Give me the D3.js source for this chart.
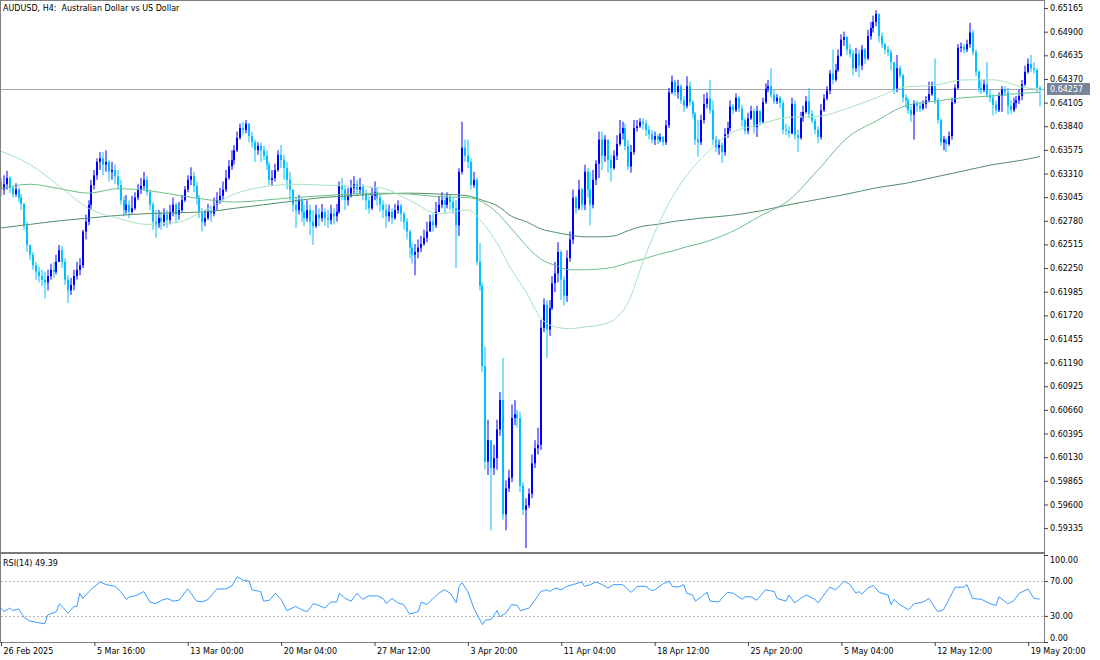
<!DOCTYPE html>
<html>
<head>
<meta charset="utf-8">
<title>AUDUSD H4</title>
<script src="https://cdn.jsdelivr.net/npm/d3@7"></script>
<style>
html,body{margin:0;padding:0;background:#fff;}
svg{display:block;}
</style>
</head>
<body>
<svg id="chart" width="1100" height="660"></svg>
<script>
// ---------------- DATA ----------------
const symbolTitle = "AUDUSD, H4:  Australian Dollar vs US Dollar";
const firstOpen = 0.6322;
const closes = [
0.6313,0.6319,0.6326,0.6315,0.6308,0.6313,0.6304,0.6297,0.6273,0.6251,
0.6240,0.6228,0.6221,0.6216,0.6212,0.6209,0.6216,0.6223,0.6221,0.6232,
0.6245,0.6232,0.6212,0.6200,0.6206,0.6216,0.6223,0.6228,0.6266,0.6277,
0.6296,0.6318,0.6329,0.6344,0.6348,0.6341,0.6344,0.6333,0.6335,0.6328,
0.6318,0.6301,0.6290,0.6296,0.6288,0.6292,0.6304,0.6313,0.6317,0.6324,
0.6310,0.6296,0.6277,0.6273,0.6281,0.6277,0.6285,0.6279,0.6288,0.6296,
0.6285,0.6290,0.6301,0.6313,0.6324,0.6328,0.6317,0.6304,0.6288,0.6277,
0.6281,0.6288,0.6286,0.6296,0.6301,0.6306,0.6313,0.6326,0.6339,0.6346,
0.6357,0.6371,0.6382,0.6380,0.6387,0.6373,0.6366,0.6357,0.6362,0.6357,
0.6351,0.6341,0.6324,0.6326,0.6335,0.6352,0.6346,0.6337,0.6324,0.6313,
0.6296,0.6290,0.6301,0.6288,0.6281,0.6290,0.6277,0.6272,0.6285,0.6281,
0.6288,0.6281,0.6279,0.6286,0.6283,0.6288,0.6318,0.6313,0.6301,0.6306,
0.6315,0.6319,0.6313,0.6317,0.6307,0.6301,0.6292,0.6306,0.6310,0.6304,
0.6296,0.6290,0.6283,0.6288,0.6281,0.6290,0.6295,0.6286,0.6277,0.6266,
0.6248,0.6240,0.6243,0.6248,0.6252,0.6259,0.6266,0.6277,0.6273,0.6288,
0.6296,0.6301,0.6296,0.6304,0.6299,0.6292,0.6273,0.6333,0.6360,0.6351,
0.6344,0.6318,0.6324,0.6232,0.6205,0.6115,0.6008,0.6032,0.6001,0.6012,
0.6044,0.6077,0.5949,0.5978,0.5990,0.6057,0.6061,0.6057,0.5981,0.5954,
0.5959,0.5972,0.6006,0.6023,0.6027,0.6158,0.6184,0.6156,0.6180,0.6208,
0.6219,0.6243,0.6212,0.6194,0.6236,0.6257,0.6304,0.6292,0.6313,0.6296,
0.6333,0.6313,0.6296,0.6324,0.6342,0.6369,0.6351,0.6369,0.6346,0.6337,
0.6351,0.6364,0.6376,0.6382,0.6362,0.6339,0.6355,0.6382,0.6384,0.6389,
0.6387,0.6380,0.6375,0.6369,0.6373,0.6369,0.6372,0.6366,0.6385,0.6422,
0.6434,0.6422,0.6429,0.6413,0.6407,0.6429,0.6411,0.6398,0.6369,0.6366,
0.6391,0.6409,0.6415,0.6402,0.6369,0.6360,0.6363,0.6355,0.6375,0.6382,
0.6406,0.6402,0.6416,0.6404,0.6391,0.6379,0.6393,0.6401,0.6383,0.6401,
0.6389,0.6411,0.6426,0.6429,0.6419,0.6412,0.6416,0.6410,0.6380,0.6379,
0.6376,0.6409,0.6374,0.6371,0.6393,0.6400,0.6412,0.6398,0.6390,0.6380,
0.6372,0.6402,0.6415,0.6424,0.6443,0.6436,0.6447,0.6463,0.6481,0.6484,
0.6470,0.6465,0.6449,0.6465,0.6452,0.6470,0.6460,0.6485,0.6494,0.6501,
0.6510,0.6485,0.6476,0.6470,0.6467,0.6456,0.6425,0.6449,0.6441,0.6416,
0.6413,0.6402,0.6397,0.6409,0.6407,0.6404,0.6409,0.6413,0.6420,0.6429,
0.6413,0.6391,0.6366,0.6369,0.6364,0.6373,0.6411,0.6427,0.6472,0.6473,
0.6470,0.6476,0.6489,0.6467,0.6445,0.6427,0.6425,0.6431,0.6419,0.6416,
0.6408,0.6402,0.6418,0.6425,0.6422,0.6407,0.6402,0.6410,0.6413,0.6418,
0.6431,0.6445,0.6454,0.6449,0.6447,0.6427,0.64257];
const highs = [
0.6326,0.6329,0.6334,0.6328,0.6317,0.6320,0.6315,0.6308,0.6298,0.6277,
0.6251,0.6243,0.6232,0.6227,0.6223,0.6221,0.6223,0.6230,0.6232,0.6240,
0.6251,0.6250,0.6236,0.6217,0.6214,0.6223,0.6232,0.6236,0.6268,0.6285,
0.6301,0.6324,0.6335,0.6348,0.6355,0.6355,0.6357,0.6346,0.6344,0.6341,
0.6335,0.6324,0.6306,0.6307,0.6301,0.6306,0.6310,0.6319,0.6326,0.6333,
0.6328,0.6313,0.6299,0.6290,0.6290,0.6288,0.6292,0.6290,0.6296,0.6304,
0.6298,0.6299,0.6307,0.6317,0.6329,0.6338,0.6333,0.6322,0.6307,0.6292,
0.6290,0.6297,0.6295,0.6304,0.6310,0.6315,0.6322,0.6335,0.6346,0.6357,
0.6363,0.6378,0.6387,0.6389,0.6391,0.6387,0.6378,0.6369,0.6366,0.6366,
0.6362,0.6357,0.6344,0.6335,0.6342,0.6357,0.6363,0.6352,0.6344,0.6333,
0.6313,0.6304,0.6307,0.6304,0.6296,0.6301,0.6296,0.6290,0.6296,0.6292,
0.6297,0.6292,0.6290,0.6296,0.6292,0.6297,0.6322,0.6326,0.6317,0.6315,
0.6324,0.6328,0.6324,0.6326,0.6319,0.6313,0.6306,0.6315,0.6322,0.6315,
0.6307,0.6301,0.6297,0.6296,0.6292,0.6297,0.6301,0.6297,0.6288,0.6281,
0.6268,0.6254,0.6252,0.6257,0.6261,0.6268,0.6277,0.6285,0.6286,0.6299,
0.6306,0.6310,0.6306,0.6310,0.6307,0.6304,0.6301,0.6337,0.6389,0.6369,
0.6369,0.6348,0.6333,0.6326,0.6253,0.6209,0.6137,0.6055,0.6032,0.6027,
0.6055,0.6086,0.6124,0.5987,0.5999,0.6072,0.6077,0.6066,0.6064,0.5985,
0.5967,0.5978,0.6016,0.6032,0.6046,0.6167,0.6191,0.6189,0.6189,0.6216,
0.6232,0.6254,0.6245,0.6216,0.6245,0.6266,0.6313,0.6306,0.6324,0.6315,
0.6341,0.6337,0.6333,0.6335,0.6346,0.6378,0.6378,0.6374,0.6360,0.6352,
0.6357,0.6374,0.6391,0.6389,0.6387,0.6369,0.6363,0.6391,0.6391,0.6393,
0.6393,0.6391,0.6385,0.6380,0.6378,0.6375,0.6376,0.6373,0.6391,0.6427,
0.6441,0.6436,0.6436,0.6431,0.6418,0.6440,0.6434,0.6413,0.6400,0.6391,
0.6397,0.6420,0.6422,0.6436,0.6413,0.6373,0.6369,0.6366,0.6382,0.6389,
0.6413,0.6409,0.6421,0.6418,0.6408,0.6393,0.6399,0.6407,0.6404,0.6407,
0.6402,0.6416,0.6432,0.6436,0.6449,0.6425,0.6420,0.6418,0.6413,0.6387,
0.6384,0.6416,0.6413,0.6380,0.6400,0.6407,0.6418,0.6427,0.6402,0.6393,
0.6384,0.6409,0.6420,0.6429,0.6447,0.6470,0.6454,0.6470,0.6487,0.6490,
0.6485,0.6476,0.6470,0.6472,0.6470,0.6475,0.6472,0.6492,0.6501,0.6508,
0.6514,0.6510,0.6489,0.6478,0.6474,0.6470,0.6456,0.6464,0.6452,0.6443,
0.6420,0.6416,0.6407,0.6413,0.6413,0.6411,0.6413,0.6418,0.6434,0.6434,
0.6460,0.6416,0.6393,0.6373,0.6371,0.6378,0.6416,0.6431,0.6476,0.6478,
0.6476,0.6481,0.6500,0.6492,0.6470,0.6447,0.6436,0.6436,0.6456,0.6425,
0.6420,0.6413,0.6422,0.6429,0.6429,0.6427,0.6413,0.6416,0.6418,0.6425,
0.6436,0.6452,0.6460,0.6464,0.6456,0.6449,0.6429];
const lows = [
0.6306,0.6307,0.6313,0.6309,0.6304,0.6305,0.6299,0.6290,0.6268,0.6243,
0.6234,0.6223,0.6212,0.6209,0.6205,0.6191,0.6200,0.6212,0.6214,0.6218,
0.6232,0.6225,0.6206,0.6186,0.6195,0.6200,0.6212,0.6217,0.6225,0.6257,
0.6273,0.6290,0.6313,0.6324,0.6335,0.6329,0.6333,0.6322,0.6324,0.6319,
0.6313,0.6296,0.6283,0.6286,0.6281,0.6286,0.6290,0.6301,0.6308,0.6313,
0.6306,0.6290,0.6268,0.6259,0.6270,0.6268,0.6272,0.6270,0.6274,0.6283,
0.6277,0.6279,0.6288,0.6299,0.6310,0.6318,0.6310,0.6296,0.6281,0.6266,
0.6272,0.6279,0.6277,0.6283,0.6290,0.6297,0.6301,0.6310,0.6324,0.6335,
0.6341,0.6355,0.6369,0.6374,0.6376,0.6366,0.6360,0.6344,0.6352,0.6344,
0.6346,0.6335,0.6318,0.6317,0.6322,0.6333,0.6337,0.6324,0.6313,0.6301,
0.6288,0.6270,0.6285,0.6277,0.6272,0.6277,0.6262,0.6251,0.6270,0.6272,
0.6277,0.6272,0.6270,0.6274,0.6274,0.6277,0.6286,0.6301,0.6290,0.6295,
0.6304,0.6308,0.6306,0.6308,0.6301,0.6290,0.6286,0.6290,0.6301,0.6295,
0.6288,0.6281,0.6270,0.6277,0.6274,0.6279,0.6286,0.6277,0.6268,0.6257,
0.6236,0.6230,0.6217,0.6236,0.6243,0.6250,0.6254,0.6266,0.6266,0.6270,
0.6288,0.6292,0.6286,0.6292,0.6290,0.6286,0.6225,0.6261,0.6330,0.6344,
0.6337,0.6313,0.6315,0.6228,0.6200,0.6108,0.5999,0.5993,0.5931,0.5993,
0.5999,0.6037,0.5943,0.5931,0.5974,0.5985,0.6049,0.6046,0.5974,0.5948,
0.5911,0.5956,0.5967,0.6001,0.6016,0.6021,0.6153,0.6124,0.6149,0.6178,
0.6198,0.6209,0.6189,0.6183,0.6187,0.6232,0.6252,0.6286,0.6290,0.6290,
0.6290,0.6304,0.6273,0.6292,0.6318,0.6326,0.6335,0.6344,0.6332,0.6322,
0.6335,0.6346,0.6362,0.6369,0.6357,0.6335,0.6332,0.6352,0.6378,0.6382,
0.6380,0.6373,0.6369,0.6365,0.6363,0.6364,0.6366,0.6362,0.6363,0.6382,
0.6420,0.6418,0.6415,0.6409,0.6400,0.6404,0.6407,0.6393,0.6363,0.6350,
0.6363,0.6387,0.6404,0.6398,0.6363,0.6355,0.6352,0.6343,0.6351,0.6371,
0.6378,0.6398,0.6400,0.6400,0.6383,0.6375,0.6375,0.6391,0.6376,0.6372,
0.6385,0.6387,0.6409,0.6422,0.6416,0.6409,0.6409,0.6404,0.6375,0.6374,
0.6371,0.6375,0.6369,0.6355,0.6369,0.6389,0.6398,0.6393,0.6387,0.6375,
0.6365,0.6369,0.6400,0.6413,0.6420,0.6431,0.6434,0.6445,0.6462,0.6474,
0.6464,0.6461,0.6441,0.6445,0.6439,0.6447,0.6454,0.6458,0.6481,0.6489,
0.6496,0.6478,0.6472,0.6465,0.6463,0.6447,0.6420,0.6422,0.6438,0.6411,
0.6404,0.6398,0.6389,0.6369,0.6400,0.6400,0.6402,0.6404,0.6411,0.6418,
0.6409,0.6387,0.6362,0.6357,0.6355,0.6362,0.6369,0.6409,0.6425,0.6467,
0.6466,0.6467,0.6472,0.6464,0.6440,0.6422,0.6420,0.6422,0.6416,0.6411,
0.6396,0.6398,0.6400,0.6400,0.6418,0.6397,0.6398,0.6400,0.6404,0.6409,
0.6413,0.6429,0.6443,0.6445,0.6443,0.6422,0.6406];

// moving averages, read at these bar positions
const maIndex = [0,10,20,30,40,50,60,70,80,90,100,110,120,130,140,150,160,165,170,175,180,185,190,195,200,205,210,215,220,225,230,235,240,250,260,270,280,290,300,310,320,330,340,350,356];
const maFast = [0.6356,0.6341,0.6317,0.6292,0.6281,0.6274,0.6276,0.6290,0.6308,0.6316,0.6319,0.6318,0.6317,0.6315,0.6301,0.6286,0.6290,0.6276,0.6253,0.6223,0.6198,0.6169,0.6159,0.6157,0.6159,0.6161,0.6167,0.6187,0.6232,0.6272,0.6304,0.6329,0.6348,0.6376,0.6386,0.6394,0.6395,0.6404,0.6416,0.6428,0.6430,0.6436,0.6436,0.6428,0.6425];
const maMid = [0.6314,0.6319,0.6314,0.6309,0.6314,0.6312,0.6307,0.6302,0.6299,0.6301,0.6304,0.6306,0.6308,0.6309,0.6308,0.6305,0.6304,0.6299,0.6287,0.6269,0.6250,0.6235,0.6228,0.6223,0.6223,0.6224,0.6226,0.6231,0.6235,0.6240,0.6244,0.6249,0.6253,0.6265,0.6283,0.6301,0.6335,0.6371,0.6390,0.6407,0.6412,0.6416,0.6418,0.6421,0.6422];
const maSlow = [0.6270,0.6274,0.6278,0.6281,0.6284,0.6286,0.6287,0.6288,0.6292,0.6296,0.6300,0.6304,0.6306,0.6308,0.6309,0.6308,0.6306,0.6301,0.6295,0.6283,0.6277,0.6269,0.6265,0.6262,0.6260,0.6260,0.6261,0.6267,0.6272,0.6274,0.6277,0.6279,0.6281,0.6284,0.6289,0.6296,0.6302,0.6308,0.6315,0.6320,0.6327,0.6334,0.6341,0.6346,0.6350];

// RSI(14), read at these bar positions
const rsiIndex = [0,1,3,4,6,8,10,13,15,16,19,20,22,23,25,26,27,28,31,34,36,39,41,43,44,46,49,51,53,55,57,59,61,64,67,69,71,74,77,79,81,83,85,86,89,90,92,94,96,98,101,103,105,107,109,111,113,115,116,118,120,122,124,126,129,131,132,134,136,138,140,143,144,146,148,150,152,154,156,157,158,160,162,165,166,168,170,171,173,175,177,178,181,183,185,187,188,190,192,194,197,199,200,202,204,206,208,210,213,216,218,221,223,224,227,229,230,232,234,235,237,238,240,241,242,243,246,247,249,251,254,255,257,259,262,265,266,269,270,272,274,276,279,280,282,284,286,289,291,293,294,295,297,299,301,304,305,306,308,311,313,316,318,321,323,325,327,330,331,333,336,339,341,342,345,347,349,352,354,356];
const rsiValues = [39,35,39,36,38,28,24,22,21,31,35,44,37,33,41,41,56,50,61,69,66,64,58,49,52,53,58,46,44,48,50,47,48,61,47,46,49,61,61,64,75,71,70,60,58,47,48,56,49,36,41,37,35,44,42,39,46,46,56,50,47,56,49,53,53,50,44,50,45,43,32,35,46,43,50,56,60,56,45,64,68,58,39,20,25,26,36,29,33,43,42,36,39,48,58,60,58,62,60,64,67,69,64,66,69,66,62,66,66,57,64,64,59,60,67,70,64,63,66,56,54,47,52,55,57,47,46,50,57,56,49,52,52,48,60,58,50,47,54,45,50,54,49,45,54,63,60,70,66,56,58,55,62,65,57,54,43,49,43,37,44,46,50,35,37,50,63,63,66,50,49,44,42,52,44,47,56,61,50,49.39];
const rsiLabel = "RSI(14) 49.39";

// axes
const priceTicks = [0.59335,0.59600,0.59865,0.60130,0.60395,0.60660,0.60925,0.61190,0.61455,0.61720,0.61985,0.62250,0.62515,0.62780,0.63045,0.63310,0.63575,0.63840,0.64105,0.64370,0.64635,0.64900,0.65165];
const rsiTicks = [0,30,70,100];
const rsiLevels = [30,70];
const timeTickIndex = [0,32,64,96,128,160,192,224,256,288,320,352];
const timeTickLabels = ["26 Feb 2025","5 Mar 16:00","13 Mar 00:00","20 Mar 04:00","27 Mar 12:00","3 Apr 20:00","11 Apr 04:00","18 Apr 12:00","25 Apr 20:00","5 May 04:00","12 May 12:00","19 May 20:00"];
const lastPrice = 0.64257;

// ---------------- DRAWING ----------------
const W = 1100, H = 660;
const plotLeft = 1, plotRight = 1044;
const mainTop = 1, mainBottom = 552, rsiTop = 555, rsiBottom = 642;
const FONT = '"DejaVu Sans", Verdana, sans-serif';
const FS = 8;
const GRAY = "#808080";
const BULL = "#0000ff", BEAR = "#00bfff";

const svg = d3.select("#chart");
svg.append("rect").attr("width", W).attr("height", H).attr("fill", "#fff");

const x = d3.scaleLinear().domain([0, closes.length - 1]).range([1, 1039.8]);
const y = d3.scaleLinear().domain([0.59067, 0.65244]).range([mainBottom, mainTop]);
const yr = d3.scaleLinear().domain([0, 100]).range([rsiBottom, rsiTop]);

const defs = svg.append("defs");
defs.append("clipPath").attr("id", "clipMain").append("rect")
  .attr("x", plotLeft).attr("y", mainTop).attr("width", plotRight - plotLeft).attr("height", mainBottom - mainTop);
defs.append("clipPath").attr("id", "clipRsi").append("rect")
  .attr("x", plotLeft).attr("y", rsiTop).attr("width", plotRight - plotLeft).attr("height", rsiBottom - rsiTop);

const main = svg.append("g").attr("clip-path", "url(#clipMain)");

// current price line
main.append("line")
  .attr("x1", plotLeft).attr("x2", plotRight)
  .attr("y1", Math.round(y(lastPrice)) + 0.5).attr("y2", Math.round(y(lastPrice)) + 0.5)
  .attr("stroke", "#a8a8a8").attr("stroke-width", 1);

// candles
const bars = closes.map((c, i) => {
  const o = i === 0 ? firstOpen : closes[i - 1];
  return { i, o, c, h: Math.max(highs[i], o, c), l: Math.min(lows[i], o, c), bull: c >= o };
});
const cg = main.append("g");
cg.selectAll("line.wick").data(bars).join("line")
  .attr("class", "wick")
  .attr("x1", d => Math.round(x(d.i))).attr("x2", d => Math.round(x(d.i)))
  .attr("y1", d => y(d.h)).attr("y2", d => y(d.l))
  .attr("stroke", d => d.bull ? BULL : BEAR).attr("stroke-width", 1);
cg.selectAll("rect.body").data(bars).join("rect")
  .attr("class", "body")
  .attr("x", d => Math.round(x(d.i)) - 1).attr("width", 2)
  .attr("y", d => y(Math.max(d.o, d.c)))
  .attr("height", d => Math.max(1, Math.abs(y(d.o) - y(d.c))))
  .attr("fill", d => d.bull ? BULL : BEAR);

// moving averages
const maLine = d3.line().x(d => x(d[0])).y(d => y(d[1])).curve(d3.curveMonotoneX);
[[maSlow, "#4f9068"], [maMid, "#6cbd8a"], [maFast, "#a6e3bf"]].forEach(([arr, col]) => {
  main.append("path")
    .attr("d", maLine(maIndex.map((k, j) => [k, arr[j]])))
    .attr("fill", "none").attr("stroke", col).attr("stroke-width", 1);
});

// RSI panel
const rg = svg.append("g").attr("clip-path", "url(#clipRsi)");
rg.selectAll("line.lvl").data(rsiLevels).join("line")
  .attr("class", "lvl")
  .attr("x1", plotLeft).attr("x2", plotRight)
  .attr("y1", d => Math.round(yr(d)) + 0.5).attr("y2", d => Math.round(yr(d)) + 0.5)
  .attr("stroke", "#b8b8b8").attr("stroke-dasharray", "2,2");
rg.append("path")
  .attr("d", d3.line().x(d => x(d[0])).y(d => yr(d[1]))(rsiIndex.map((k, j) => [k, rsiValues[j]])))
  .attr("fill", "none").attr("stroke", "#3a9bff").attr("stroke-width", 1);

// frame and separators
svg.append("rect").attr("x", 0.5).attr("y", 0.5).attr("width", plotRight).attr("height", rsiBottom)
  .attr("fill", "none").attr("stroke", GRAY);
svg.append("rect").attr("x", 0).attr("y", 552).attr("width", plotRight + 1).attr("height", 2).attr("fill", "#7a7a7a");

// price axis
const pax = svg.append("g").attr("transform", `translate(${plotRight},0)`)
  .call(d3.axisRight(y).tickValues(priceTicks).tickSize(4).tickPadding(2).tickFormat(d3.format(".5f")));
pax.select(".domain").remove();
pax.attr("font-family", FONT).attr("font-size", FS);
pax.selectAll("line").attr("stroke", "#404040");
pax.selectAll("text").attr("fill", "#000");

// RSI axis
const rax = svg.append("g").attr("transform", `translate(${plotRight},0)`)
  .call(d3.axisRight(yr).tickValues(rsiTicks).tickSize(4).tickPadding(2).tickFormat(d3.format(".2f")));
rax.select(".domain").remove();
rax.attr("font-family", FONT).attr("font-size", FS);
rax.selectAll("line").attr("stroke", "#404040");
rax.selectAll("text").attr("fill", "#000")
  .attr("dy", d => d === 100 ? "0.95em" : (d === 0 ? "-0.25em" : "0.32em"));

// time axis
const tax = svg.append("g").attr("transform", `translate(0,${rsiBottom})`)
  .call(d3.axisBottom(x).tickValues(timeTickIndex).tickSize(4).tickPadding(2)
    .tickFormat((d, i) => timeTickLabels[i]));
tax.select(".domain").remove();
tax.attr("font-family", FONT).attr("font-size", FS);
tax.selectAll("line").attr("stroke", "#404040");
tax.selectAll("text").attr("fill", "#000").attr("text-anchor", "start").attr("x", 2);

// last price label
const ly = Math.round(y(lastPrice));
svg.append("rect").attr("x", plotRight + 3).attr("y", ly - 6).attr("width", 43).attr("height", 12).attr("fill", "#75869a");
svg.append("text").attr("x", plotRight + 6).attr("y", ly).attr("dy", "0.35em")
  .attr("font-family", FONT).attr("font-size", FS).attr("fill", "#fff").text(d3.format(".5f")(lastPrice));

// titles
svg.append("text").attr("x", 3).attr("y", 11).attr("font-family", FONT).attr("font-size", FS)
  .attr("fill", "#000").style("white-space", "pre").attr("xml:space", "preserve").text(symbolTitle);
svg.append("text").attr("x", 3).attr("y", 566).attr("font-family", FONT).attr("font-size", FS)
  .attr("fill", "#000").text(rsiLabel);
</script>
</body>
</html>
